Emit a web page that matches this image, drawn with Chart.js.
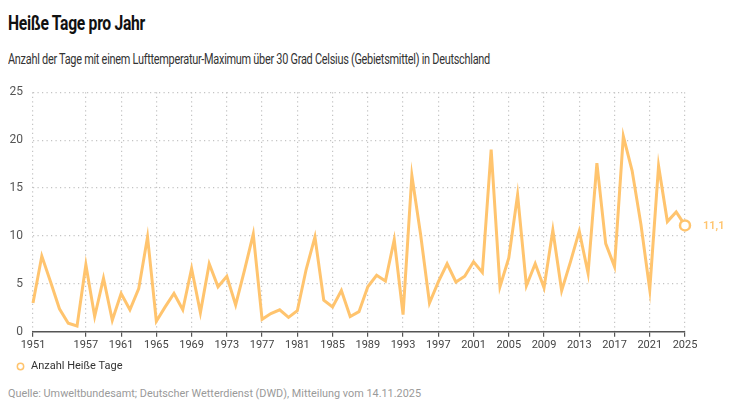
<!DOCTYPE html>
<html>
<head>
<meta charset="utf-8">
<script src="https://cdn.jsdelivr.net/npm/chart.js@4.4.1/dist/chart.umd.min.js"></script>
<style>
  html,body{margin:0;padding:0;background:#fff;width:735px;height:413px;overflow:hidden;font-family:Roboto, "Noto Sans", sans-serif;}
  .t{position:absolute;left:8px;white-space:nowrap;transform-origin:0 50%;}
  #title{top:11px;font-size:21px;font-weight:700;color:#111;letter-spacing:-0.4px;}
  #sub{top:51px;font-size:14px;color:#333;letter-spacing:-0.35px;}
  #src{top:386px;font-size:11.5px;color:#9a9a9a;}
  #wrap{position:absolute;left:0;top:75px;width:735px;height:310px;}
</style>
</head>
<body>
<div class="t" id="title" data-w="137">Heiße Tage pro Jahr</div>
<div class="t" id="sub" data-w="482">Anzahl der Tage mit einem Lufttemperatur-Maximum über 30 Grad Celsius (Gebietsmittel) in Deutschland</div>
<div id="wrap"><canvas id="c"></canvas></div>
<div class="t" id="src" data-w="413">Quelle: Umweltbundesamt; Deutscher Wetterdienst (DWD), Mitteilung vom 14.11.2025</div>
<script>
const years = [];
for (let y = 1951; y <= 2025; y++) years.push(String(y));
const hotDays = [
  3.0, 7.9, 5.2, 2.4, 0.9, 0.6, 7.0, 1.6, 5.6, 1.2,
  4.0, 2.3, 4.5, 9.9, 1.1, 2.6, 4.0, 2.3, 6.6, 2.0,
  7.1, 4.7, 5.8, 2.8, 6.4, 10.2, 1.3, 1.9, 2.3, 1.5,
  2.2, 6.5, 9.9, 3.3, 2.6, 4.3, 1.6, 2.1, 4.7, 5.9,
  5.3, 9.6, 1.8, 16.3, 10.1, 3.0, 5.2, 7.1, 5.2, 5.8,
  7.3, 6.2, 19.0, 4.7, 7.7, 14.3, 4.8, 7.1, 4.6, 10.6,
  4.3, 7.3, 10.5, 6.1, 17.6, 9.2, 6.8, 20.4, 16.8, 11.2,
  4.4, 17.3, 11.5, 12.5, 11.1
];
const yTicks = [0, 5, 10, 15, 20, 25];
const seriesName = 'Anzahl Heiße Tage';
const lastLabel = '11,1';

const ORANGE = '#ffc46e';
const GRID = '#c4c4c4';

function fitTexts() {
  document.querySelectorAll('.t').forEach(el => {
    el.style.transform = 'none';
    const w = el.getBoundingClientRect().width;
    const target = parseFloat(el.dataset.w);
    el.style.transform = 'scaleX(' + (target / w) + ')';
  });
}
fitTexts();
if (document.fonts && document.fonts.ready) document.fonts.ready.then(fitTexts);

function isLabeled(idx) {
  const y = 1951 + idx;
  return y === 1951 || (y >= 1957 && (y - 1957) % 4 === 0);
}

const endLabel = {
  id: 'endLabel',
  afterDatasetsDraw(chart) {
    const meta = chart.getDatasetMeta(0);
    const pt = meta.data[meta.data.length - 1];
    const ctx = chart.ctx;
    ctx.save();
    ctx.font = '600 11px Roboto, sans-serif';
    ctx.fillStyle = ORANGE;
    ctx.textBaseline = 'middle';
    ctx.textAlign = 'left';
    ctx.fillText(lastLabel, pt.x + 18, pt.y + 1);
    ctx.restore();
  }
};

const legendShift = {
  id: 'legendShift',
  afterLayout(chart) {
    const lg = chart.legend;
    if (!lg) return;
    lg.left += 5.5; lg.right += 5.5;
    lg.top -= 3; lg.bottom -= 3;
  }
};

const n = hotDays.length;
new Chart(document.getElementById('c'), {
  type: 'line',
  data: {
    labels: years,
    datasets: [{
      label: seriesName,
      data: hotDays,
      borderColor: ORANGE,
      backgroundColor: '#ffffff',
      borderWidth: 3,
      tension: 0,
      pointRadius: hotDays.map((v, i) => i === n - 1 ? 5 : 0),
      pointBorderWidth: hotDays.map((v, i) => i === n - 1 ? 2.5 : 1.5),
      pointBorderColor: ORANGE,
      pointBackgroundColor: '#ffffff',
      pointHoverRadius: 0,
      pointStyle: 'circle'
    }]
  },
  options: {
    responsive: true,
    maintainAspectRatio: false,
    animation: false,
    layout: { padding: { left: 0, right: 50, top: 0, bottom: 0 } },
    plugins: {
      legend: {
        display: true,
        position: 'bottom',
        align: 'start',
        labels: {
          usePointStyle: true,
          pointStyle: 'circle',
          boxWidth: 10,
          boxHeight: 4.5,
          padding: 10,
          color: '#333',
          font: { family: 'Roboto, sans-serif', size: 11 }
        }
      },
      tooltip: { enabled: false }
    },
    scales: {
      x: {
        type: 'category',
        offset: false,
        grid: {
          display: true,
          drawOnChartArea: true,
          drawTicks: true,
          tickLength: 5,
          color: ctx => isLabeled(ctx.index) ? GRID : 'rgba(0,0,0,0)',
          tickColor: ctx => isLabeled(ctx.index) ? '#555' : 'rgba(0,0,0,0)',
          lineWidth: 1.2,
          tickWidth: 1.2
        },
        border: { display: true, color: '#555', width: 1.5, dash: [1.2, 3.3] },
        ticks: {
          autoSkip: false,
          maxRotation: 0,
          padding: 2,
          color: '#444',
          font: { family: 'Roboto, sans-serif', size: 11 },
          callback: function(val, idx) { return isLabeled(idx) ? years[idx] : ''; }
        }
      },
      y: {
        min: 0,
        max: 25,
        afterFit: s => { s.width = 33; },
        afterBuildTicks: s => { s.ticks = yTicks.map(v => ({ value: v })); },
        grid: {
          drawTicks: false,
          color: ctx => ctx.tick && ctx.tick.value === 0 ? 'rgba(0,0,0,0)' : GRID,
          lineWidth: 1.2
        },
        border: { display: false, dash: [1.2, 3.3] },
        ticks: {
          padding: 10,
          color: '#555',
          font: { family: 'Roboto, sans-serif', size: 12 }
        }
      }
    }
  },
  plugins: [endLabel, legendShift]
});
</script>
</body>
</html>
